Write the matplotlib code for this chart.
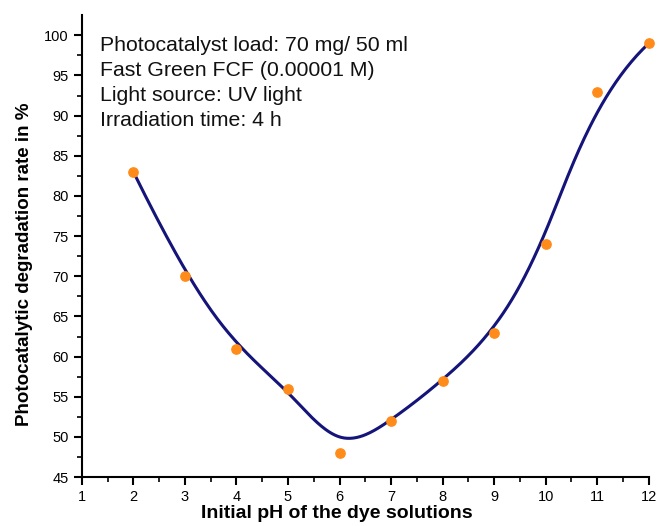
import numpy as np
import matplotlib.pyplot as plt

plt.rcParams['font.family'] = ['Liberation Sans', 'DejaVu Sans']

ph = [2, 3, 4, 5, 6, 7, 8, 9, 10, 11, 12]
rate = [83, 70, 61, 56, 48, 52, 57, 63, 74, 93, 99]
notes = ["Photocatalyst load: 70 mg/ 50 ml",
         "Fast Green FCF (0.00001 M)",
         "Light source: UV light",
         "Irradiation time: 4 h"]


def bspline(ctrl, k=3, num=400):
    # clamped uniform B-spline with the data points as control points
    n = len(ctrl)
    knots = np.concatenate([np.zeros(k), np.arange(n - k + 1), np.full(k, n - k)])
    t = np.linspace(0, n - k, num)
    t[-1] -= 1e-9
    basis = np.zeros((num, len(knots) - 1))
    for i in range(len(knots) - 1):
        basis[:, i] = (knots[i] <= t) & (t < knots[i + 1])
    for d in range(1, k + 1):
        new = np.zeros((num, len(knots) - 1 - d))
        for i in range(len(knots) - 1 - d):
            a = knots[i + d] - knots[i]
            b = knots[i + d + 1] - knots[i + 1]
            left = (t - knots[i]) / a * basis[:, i] if a > 0 else 0
            right = (knots[i + d + 1] - t) / b * basis[:, i + 1] if b > 0 else 0
            new[:, i] = left + right
        basis = new
    return basis @ np.asarray(ctrl, dtype=float)


fig = plt.figure(figsize=(6.6, 5.26), dpi=100)
ax = fig.add_axes([0.124, 0.093, 0.859, 0.878])

ax.plot(bspline(ph), bspline(rate), color='#14147a', lw=2.2, zorder=2)
ax.scatter(ph, rate, s=45, color='#ff8c1a', zorder=3, clip_on=False)

ax.set_xlim(1, 12)
ax.set_ylim(45, 102.5)
ax.set_xticks(range(1, 13))
ax.set_xticks(np.arange(1.5, 12, 1), minor=True)
ax.set_yticks(range(45, 101, 5))
ax.set_yticks(np.arange(47.5, 102, 5), minor=True)
ax.spines['top'].set_visible(False)
ax.spines['right'].set_visible(False)
for s in ('left', 'bottom'):
    ax.spines[s].set_linewidth(1.5)
ax.tick_params(which='major', direction='out', length=6, width=1.5, labelsize=10.5)
ax.tick_params(which='minor', direction='out', length=3.5, width=1.2)

ax.set_xlabel('Initial pH of the dye solutions', fontsize=14, fontweight='bold')
ax.set_ylabel('Photocatalytic degradation rate in %', fontsize=13.5, fontweight='bold')
ax.xaxis.set_label_coords(0.45, -0.061)
ax.yaxis.set_label_coords(-0.086, 0.46)

ax.text(0.032, 0.955, "\n".join(notes), transform=ax.transAxes, fontsize=15.3,
        va='top', ha='left', linespacing=1.4, color='#111111')

fig.savefig('out.png', dpi=100)
